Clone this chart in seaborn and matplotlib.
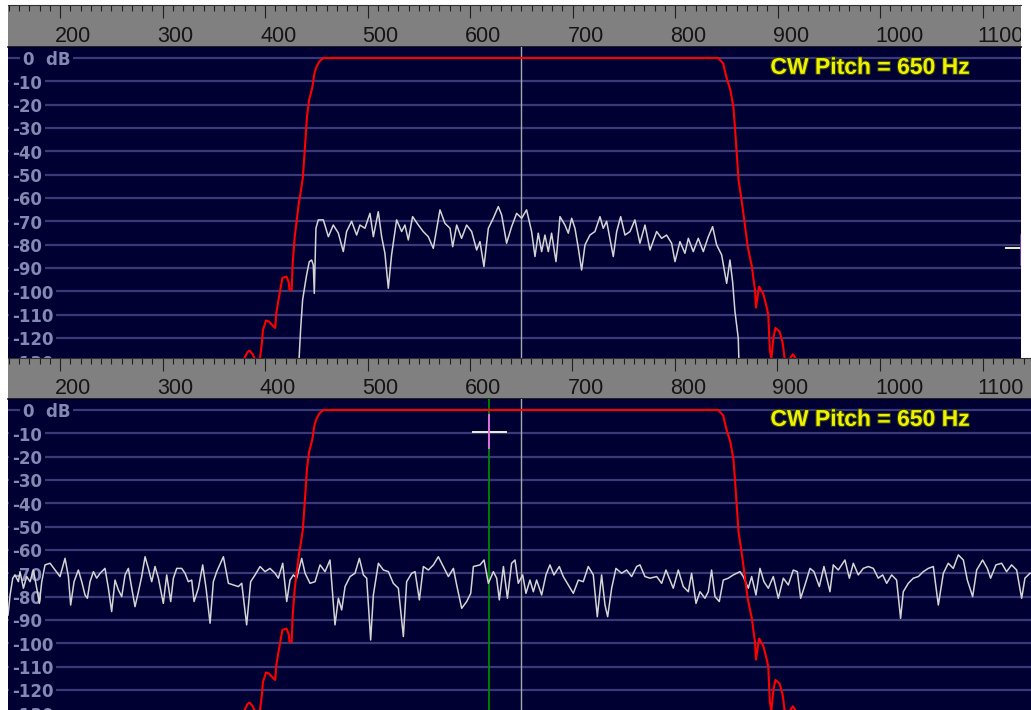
import matplotlib
matplotlib.use("Agg")
import matplotlib.pyplot as plt
import matplotlib.transforms as mtransforms
import matplotlib.patheffects as pe
import seaborn as sns
import pandas as pd

plt.rcParams['font.family'] = ['DejaVu Sans']

# ---------------- data ----------------
ruler_major = [200, 300, 400, 500, 600, 700, 800, 900, 1000, 1100]
ruler_labels = ['200', '300', '400', '500', '600', '700', '800', '900', '1000', '1100']
db_ticks = [0, -10, -20, -30, -40, -50, -60, -70, -80, -90, -100, -110, -120, -130]
db_labels = ['0  dB', '-10', '-20', '-30', '-40', '-50', '-60', '-70', '-80', '-90', '-100', '-110', '-120', '-130']
pitch_text = 'CW Pitch = 650 Hz'
cw_pitch = 650.0
cursor_freq = 618.5
cursor_db = -9.4

filter_freq = [372, 380, 383, 385, 388, 390, 395, 397, 398, 401,
               404, 407, 410, 411, 414, 417, 421, 423, 424, 426,
               427, 429, 431, 433, 435, 437, 439, 441, 443, 446,
               448, 450, 453, 457, 842, 847, 850, 854, 857, 859,
               862, 865, 868, 871, 875, 878, 879, 880, 882, 886,
               889, 891, 892.5, 894, 896, 898, 902, 905, 907, 912,
               915, 918, 925]
filter_db = [-135, -128.6, -126, -125.4, -127, -129, -129, -122, -116.6, -112.5,
             -113, -114.5, -115.7, -109.3, -101.6, -94.3, -93.7, -96, -99.4, -99.4,
             -88, -76.6, -69.4, -62.2, -57, -51, -38, -25, -18, -13,
             -7, -4, -1.5, 0, 0, -2.3, -8, -13.7, -21, -33,
             -52.3, -61, -71, -81, -89.4, -99.4, -107, -104, -98, -101,
             -106, -110, -125, -129, -120, -115.7, -117.3, -122, -129, -129,
             -127, -129, -135]

top_freq = [432.5, 434.8, 436.7, 439.0, 440.6, 443.2, 445.5, 447.1, 448.1, 449.7,
            452.0, 456.9, 461.8, 466.6, 471.5, 476.4, 479.6, 484.5, 489.4, 492.6,
            497.5, 502.4, 505.7, 510.5, 513.8, 517.0, 520.3, 523.5, 528.4, 533.3,
            536.5, 539.8, 544.0, 549.6, 554.4, 559.3, 564.2, 570.7, 575.6, 580.5,
            583.1, 587.0, 591.8, 596.7, 601.6, 606.5, 609.7, 613.6, 617.9, 622.7,
            627.6, 630.9, 635.7, 640.6, 645.5, 650.4, 655.2, 660.1, 663.4, 666.6,
            669.9, 673.1, 676.4, 679.6, 683.9, 687.8, 692.6, 695.9, 699.2, 702.4,
            705.7, 708.9, 712.2, 717.0, 721.9, 726.8, 730.0, 733.3, 739.8, 743.1,
            747.0, 751.2, 756.1, 760.9, 765.8, 770.7, 775.6, 782.1, 787.0, 791.8,
            796.7, 800.0, 804.8, 809.7, 813.0, 817.8, 822.7, 827.6, 832.5, 836.7,
            840.6, 845.5, 850.4, 853.6, 856.2, 858.5, 861.7, 862.7]
top_db = [-135, -116, -103.7, -97.3, -93, -87.3, -86.6, -88.7, -100.9, -73,
          -69.4, -69.4, -76.6, -71.6, -75, -83, -74.4, -70, -75.9, -71.6,
          -73, -66.6, -76.6, -65.9, -76.6, -83.7, -98.7, -84.4, -69.4, -74.4,
          -71.6, -78, -68, -71.6, -74.4, -76.6, -81.6, -65.1, -70.9, -73,
          -80.9, -71.6, -77.3, -71.6, -74.4, -82.3, -78.7, -89.4, -73, -68.7,
          -63.7, -67.3, -79.4, -72.3, -66.6, -68.7, -65.1, -74.4, -85.1, -75.1,
          -83, -75.9, -83, -75.1, -87.3, -68, -71.6, -75.1, -68.7, -73,
          -81.6, -90.9, -80.1, -75.9, -74.4, -68, -73, -70, -85.1, -74.4,
          -68, -75.9, -74.4, -69.4, -79.4, -71.6, -82.3, -74.4, -77.3, -75.9,
          -79.4, -87.3, -78.7, -83.7, -77.3, -83, -77.3, -83, -76.6, -72.3,
          -80.1, -84.4, -96.6, -86.6, -95.9, -108.7, -120, -135]

bot_freq = [149.3, 151.3, 153.9, 156.1, 159.4, 161.0, 164.3, 167.5, 170.8, 174.0,
            177.3, 179.9, 182.2, 185.4, 190.3, 195.2, 200.0, 204.9, 208.2, 210.4,
            213.7, 217.9, 221.2, 224.4, 226.7, 229.3, 232.6, 235.8, 239.1, 243.9,
            247.2, 250.4, 253.7, 256.9, 260.2, 263.5, 266.7, 270.0, 273.2, 276.5,
            279.7, 283.0, 286.2, 289.5, 292.7, 296.0, 300.8, 304.1, 308.0, 310.6,
            313.9, 318.7, 322.0, 325.2, 328.5, 330.8, 335.0, 339.2, 342.5, 346.4,
            349.6, 352.9, 359.4, 364.3, 369.1, 374.0, 377.3, 382.1, 386.0, 390.3,
            395.2, 400.0, 404.9, 409.8, 413.0, 417.3, 421.2, 424.4, 427.7, 430.9,
            435.8, 439.1, 443.9, 448.8, 453.7, 458.6, 463.4, 468.3, 471.6, 474.8,
            478.1, 483.0, 487.8, 492.1, 496.0, 499.2, 503.1, 505.7, 510.6, 515.5,
            520.4, 525.2, 530.1, 535.0, 538.2, 543.1, 546.4, 550.6, 554.5, 559.4,
            564.3, 569.1, 574.0, 578.9, 583.8, 587.0, 591.9, 596.8, 600.7, 603.3,
            609.8, 613.7, 617.9, 622.8, 626.0, 628.6, 632.6, 636.5, 640.6, 643.9,
            647.1, 651.4, 654.6, 658.5, 661.8, 665.0, 669.9, 674.1, 678.0, 681.9,
            687.1, 691.0, 695.9, 700.8, 705.7, 710.5, 715.4, 720.3, 724.2, 728.4,
            731.7, 734.3, 738.2, 742.4, 747.9, 752.8, 757.7, 762.6, 765.8, 770.7,
            775.6, 782.1, 787.0, 791.2, 795.1, 798.3, 803.2, 808.1, 813.0, 816.2,
            820.5, 824.4, 829.2, 832.5, 835.7, 839.0, 843.2, 847.1, 852.0, 856.9,
            863.4, 866.6, 871.5, 874.8, 879.0, 882.9, 886.8, 891.0, 895.9, 900.8,
            905.7, 910.5, 915.4, 919.3, 922.6, 926.8, 931.7, 935.6, 940.8, 945.3,
            951.2, 954.4, 959.3, 965.8, 970.1, 974.0, 978.8, 983.7, 988.6, 993.5,
            998.3, 1002.6, 1006.5, 1011.4, 1016.2, 1020.1, 1022.7, 1027.6, 1032.5, 1037.4,
            1042.2, 1047.1, 1052.0, 1056.9, 1061.8, 1066.6, 1071.5, 1076.4, 1081.3, 1085.2,
            1090.4, 1094.3, 1100.1, 1104.7, 1107.9, 1113.1, 1118.7, 1123.5, 1128.4, 1133.3,
            1138.2, 1141.4, 1146.3, 1150.0]
bot_db = [-87.9, -79.3, -72.1, -70.7, -73.6, -69.3, -76.4, -71.4, -73.6, -68.6,
          -76.4, -82.9, -73.6, -66.4, -65.7, -68.6, -71.4, -63.6, -71.4, -83.6,
          -73.6, -68.6, -73.6, -79.3, -80.7, -73.6, -69.3, -72.1, -70.0, -67.9,
          -76.4, -86.4, -72.9, -77.1, -80.0, -70.7, -67.9, -76.4, -84.3, -77.9,
          -71.4, -62.9, -67.9, -73.6, -67.1, -72.1, -82.9, -70.7, -82.1, -72.1,
          -67.9, -67.9, -70.0, -73.6, -72.9, -82.1, -76.4, -66.4, -76.4, -91.4,
          -73.6, -69.3, -62.9, -74.3, -75.0, -75.7, -74.3, -92.1, -73.6, -70.7,
          -67.1, -69.3, -67.9, -70.0, -72.1, -65.7, -82.1, -72.9, -70.7, -72.1,
          -63.6, -70.0, -74.3, -73.6, -66.4, -69.3, -64.3, -92.1, -80.7, -85.7,
          -75.7, -71.4, -70.0, -63.6, -70.7, -72.1, -98.6, -79.3, -65.7, -68.6,
          -69.3, -74.3, -76.4, -97.1, -73.6, -70.0, -69.3, -81.4, -67.1, -68.6,
          -66.4, -62.9, -67.1, -71.4, -67.9, -75.0, -85.0, -82.1, -78.6, -67.1,
          -66.4, -64.3, -74.3, -69.3, -72.1, -81.4, -67.1, -80.7, -65.7, -64.3,
          -74.3, -70.7, -78.6, -72.9, -77.9, -72.9, -79.3, -70.7, -66.4, -70.7,
          -67.1, -71.4, -75.0, -78.6, -72.9, -73.6, -67.1, -70.7, -88.6, -70.7,
          -83.6, -88.6, -76.4, -67.9, -70.0, -68.6, -71.4, -67.1, -66.4, -71.4,
          -72.1, -71.4, -74.3, -68.6, -72.9, -76.4, -68.6, -75.7, -77.9, -70.0,
          -82.9, -77.9, -80.7, -77.9, -68.6, -80.0, -82.1, -72.9, -72.1, -70.7,
          -69.3, -71.4, -76.4, -71.4, -79.3, -67.9, -73.6, -76.4, -71.4, -80.7,
          -72.1, -75.0, -68.6, -69.3, -80.7, -75.0, -67.9, -69.3, -75.7, -67.1,
          -77.9, -66.4, -68.6, -64.3, -72.1, -65.7, -70.7, -67.9, -67.1, -67.9,
          -72.1, -70.7, -74.3, -70.7, -72.9, -89.3, -77.9, -74.3, -72.1, -71.4,
          -69.3, -67.9, -67.1, -83.6, -70.0, -65.7, -67.9, -62.1, -64.3, -72.9,
          -80.0, -68.6, -64.3, -67.9, -72.1, -66.4, -65.7, -69.3, -66.4, -68.6,
          -80.7, -72.1, -70.0, -70.0]

# ---------------- style ----------------
W, H = 1031, 710
PX_PER_HZ = 1.025
F_AT_X0 = 200 - 52 / PX_PER_HZ      # frequency at the left plot edge (x=8 px)
DB_TOP, DB_BOT = 4.71, -128.6
BG = '#000033'
GRID = '#3a3a78'
LABEL_C = '#8389b2'
RULER_BG = '#808080'

fig = plt.figure(figsize=(W / 100, H / 100), dpi=100, facecolor='white')


def ax_at(x0, y0, x1, y1):
    return fig.add_axes([x0 / W, 1 - y1 / H, (x1 - x0) / W, (y1 - y0) / H])


def xlim_for(x1):
    return (F_AT_X0, 200 + (x1 - 60) / PX_PER_HZ)


def ruler(ax, x1):
    ax.set_facecolor(RULER_BG)
    ax.set_yticks([])
    minor = list(range(150, 1150, 10))
    ax.set_xticks(ruler_major)
    ax.set_xticks(minor, minor=True)
    ax.xaxis.set_ticks_position('top')
    ax.tick_params(axis='x', which='major', direction='in', length=9.5, width=0.8,
                   color='#202020', labeltop=False, labelbottom=False)
    ax.tick_params(axis='x', which='minor', direction='in', length=4.0, width=0.8,
                   color='#202020')
    for s in ['left', 'right']:
        ax.spines[s].set_visible(False)
    ax.spines['top'].set_color('#303030')
    ax.spines['top'].set_linewidth(0.8)
    ax.spines['bottom'].set_color('#101010')
    ax.spines['bottom'].set_linewidth(1.2)
    for f, lab in zip(ruler_major, ruler_labels):
        ax.text(f - 5 / PX_PER_HZ, 0.13, lab, ha='left', va='baseline',
                fontsize=15.5, family='Liberation Sans', color='#151515',
                clip_on=True)
    ax.set_xlim(*xlim_for(x1))
    ax.set_ylim(0, 1)


def panel(ax, x1, tf, tdb, cursor=False):
    ax.set_facecolor(BG)
    for s in ax.spines.values():
        s.set_visible(False)
    width_px = x1 - 8
    for d in db_ticks:
        ax.axhline(d, color=GRID, lw=1.6, zorder=1)
    tr = mtransforms.blended_transform_factory(ax.transAxes, ax.transData)
    for d, lab in zip(db_ticks, db_labels):
        xoff = 15 if d == 0 else 4
        ax.text(xoff / width_px, d - 1.0, lab, transform=tr, ha='left', va='center',
                fontsize=12, fontweight='bold', color=LABEL_C, zorder=2, clip_on=True,
                bbox=dict(facecolor=BG, edgecolor='none', pad=2.0))
    ax.axvline(cw_pitch, color='#a8a8a8', lw=1.0, zorder=3)
    if cursor:
        ax.axvline(cursor_freq, color='#008800', lw=1.3, zorder=3)
    df = pd.DataFrame({'f': tf, 'db': tdb})
    sns.lineplot(data=df, x='f', y='db', ax=ax, color='#d4d4d4', lw=1.1,
                 estimator=None, sort=False, legend=False, zorder=4)
    fdf = pd.DataFrame({'f': filter_freq, 'db': filter_db})
    sns.lineplot(data=fdf, x='f', y='db', ax=ax, color='#ff0000', lw=1.5,
                 estimator=None, sort=False, legend=False, zorder=5)
    ax.set_xlabel('')
    ax.set_ylabel('')
    ax.text(990.2, -6.8, pitch_text, ha='center', va='baseline', fontsize=16.5,
            fontweight='bold', family='Liberation Sans', color='#f0f000', zorder=6,
            path_effects=[pe.withStroke(linewidth=1.6, foreground='#304010')])
    if cursor:
        ax.plot([603, 635], [cursor_db, cursor_db], color='#f0f0d0', lw=1.4, zorder=7)
        ax.plot([cursor_freq, cursor_freq], [-2.1, -16.4], color='#e070e0', lw=1.4, zorder=8)
    ax.set_xticks([])
    ax.set_yticks([])
    ax.set_xlim(*xlim_for(x1))
    ax.set_ylim(DB_BOT, DB_TOP)


# top panel (narrower screenshot)
ax_r1 = ax_at(8, 5, 1021, 47)
ruler(ax_r1, 1021)
ax_p1 = ax_at(8, 47, 1021, 358)
panel(ax_p1, 1021, top_freq, top_db)
ax_p1.plot([1123, 1137.6], [-81.4, -81.4], color='#f0f0c0', lw=1.4, zorder=7)
ax_p1.plot([1137.2, 1137.2], [-75.8, -88.6], color='#8030c0', lw=1.2, zorder=7)
ax_p1.set_xlim(*xlim_for(1021))

# bottom panel
ax_r2 = ax_at(8, 358, 1031, 399)
ruler(ax_r2, 1031)
ax_p2 = ax_at(8, 399, 1031, 710)
panel(ax_p2, 1031, bot_freq, bot_db, cursor=True)

fig.savefig('out.png', dpi=100, facecolor='white')
